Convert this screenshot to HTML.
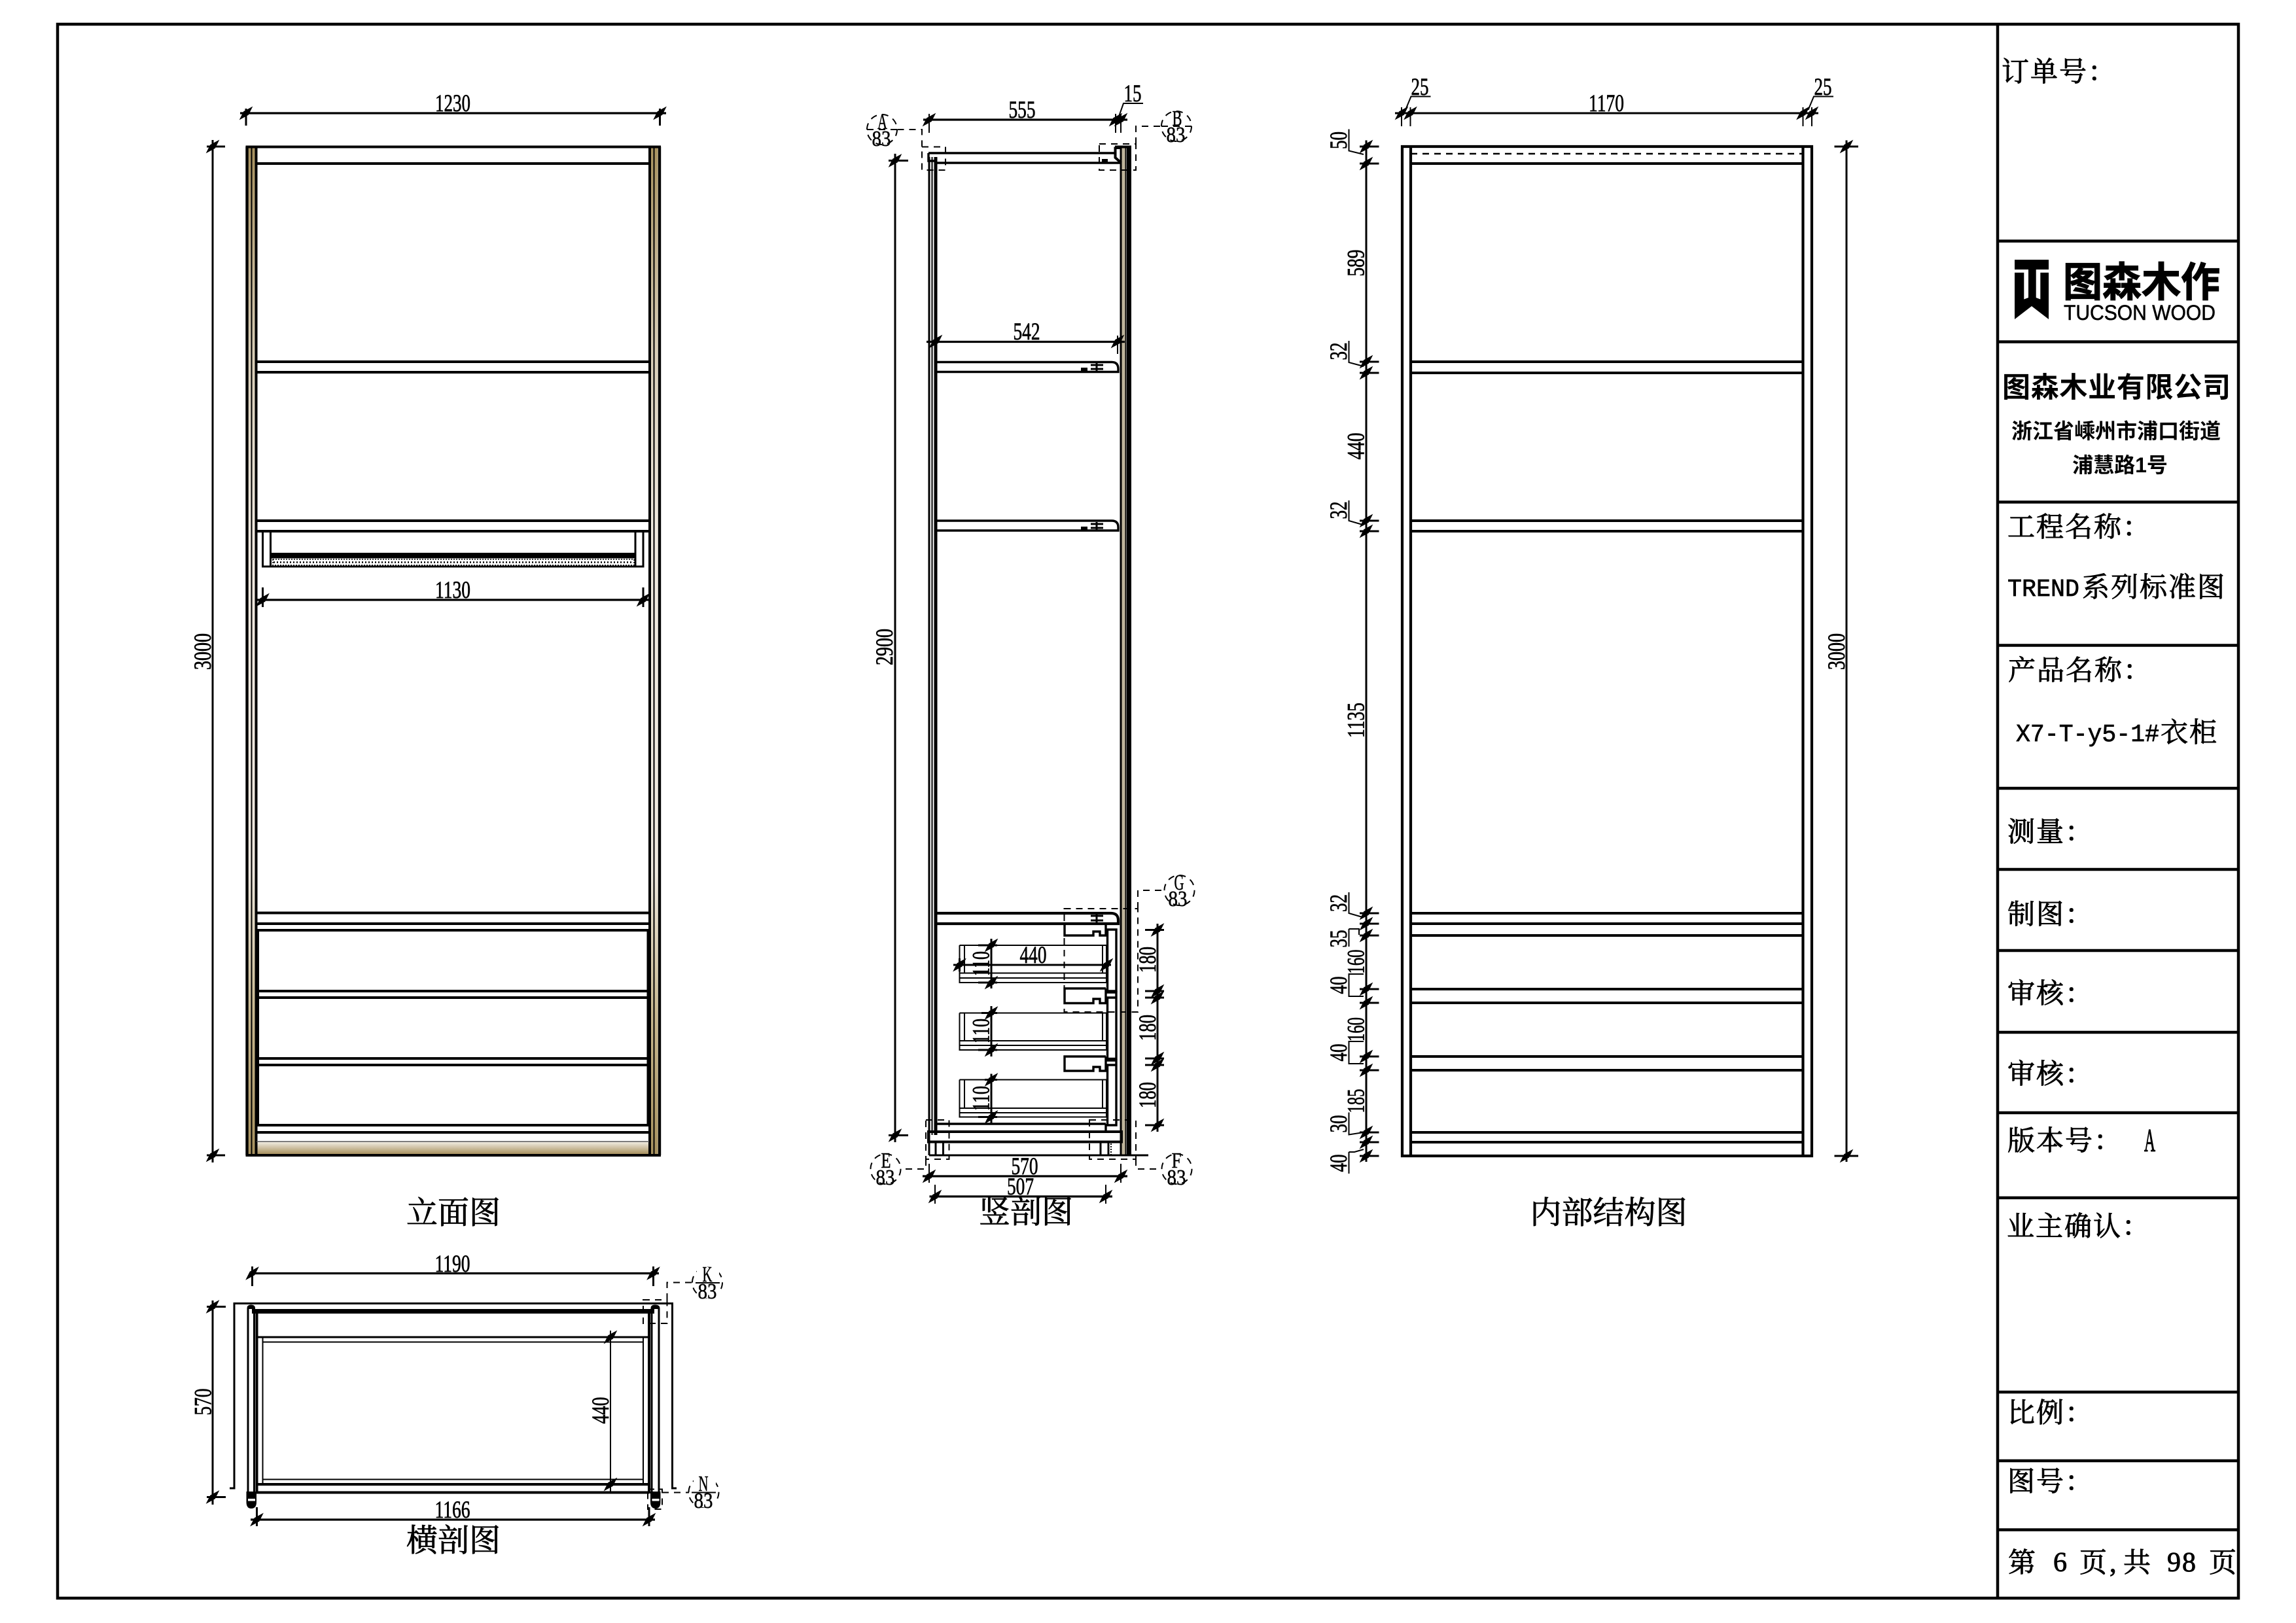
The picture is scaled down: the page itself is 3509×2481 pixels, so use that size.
<!DOCTYPE html>
<html><head><meta charset="utf-8"><title>图森木作 X7-T-y5-1#衣柜</title>
<style>
html,body{margin:0;padding:0;background:#fff;width:3509px;height:2481px;overflow:hidden}
svg{display:block}
.k{stroke:#000;stroke-width:4;fill:none}
.m{stroke:#000;stroke-width:3;fill:none}
.n{stroke:#000;stroke-width:2;fill:none}
.d{stroke:#000;stroke-width:2;fill:none;stroke-dasharray:10 8}
.t{font-family:"Liberation Serif",serif;font-size:37px;text-anchor:middle;fill:#000;stroke:#000;stroke-width:.7}
.s{font-family:"Liberation Serif",serif;font-size:34px;text-anchor:middle;fill:#000;stroke:#000;stroke-width:.5}
.c{font-family:"Liberation Serif","Noto Serif CJK SC",serif;font-size:48px;text-anchor:middle;fill:#000;stroke:#000;stroke-width:.8}
.b{font-family:"Liberation Serif","Noto Serif CJK SC",serif;font-size:42px;fill:#000;stroke:#000;stroke-width:.9;letter-spacing:2px}
.l{font-family:"Liberation Mono",monospace;font-size:38px;fill:#000;stroke:#000;stroke-width:.7}
.h{font-family:"Liberation Sans","Noto Sans CJK SC",sans-serif;font-weight:700;fill:#000;text-anchor:middle}
</style></head><body>
<svg width="3509" height="2481" viewBox="0 0 3509 2481" xmlns="http://www.w3.org/2000/svg">
<defs>
<linearGradient id="w" x1="0" y1="0" x2="0" y2="1">
<stop offset="0" stop-color="#a8925f"/><stop offset=".2" stop-color="#d8cdb6"/><stop offset=".38" stop-color="#efe9df"/><stop offset=".72" stop-color="#efe9df"/><stop offset=".86" stop-color="#c9b990"/><stop offset="1" stop-color="#a8925f"/>
</linearGradient>
<linearGradient id="w2" x1="0" y1="0" x2="0" y2="1"><stop offset="0" stop-color="#f3efe6"/><stop offset="1" stop-color="#a8925f"/></linearGradient>
<path id="x" d="M-8,8 L-3,-2 L8,-8 L3,2Z" fill="#000" stroke="#000" stroke-width="2"/>
</defs>
<rect width="3509" height="2481" fill="#fff"/>

<!-- frame and title block -->
<rect x="88" y="37" width="3333" height="2406" class="k" style="stroke-width:4.5"/>
<g class="k" style="stroke-width:4.5">
<path d="M3053,37V2443"/>
<path d="M3053,368.5H3421M3053,522.5H3421M3053,767.5H3421M3053,986.5H3421M3053,1205H3421M3053,1329H3421M3053,1453H3421M3053,1578H3421M3053,1701H3421M3053,1831H3421M3053,2128H3421M3053,2233H3421M3053,2338.5H3421"/>
</g>
<text class="b" x="3059" y="124">订单号：</text>
<path d="M3079,397H3131V488L3105,468L3079,488Z" fill="#000"/>
<path d="M3079,412H3100V455L3093.3,457.5V416.7H3079ZM3131,412H3111.7V455L3118.3,457.5V416.7H3131Z" fill="#fff"/>
<text class="h" x="3273" y="453" font-size="62" textLength="240" lengthAdjust="spacingAndGlyphs" stroke="#000" stroke-width="1.2">图森木作</text>
<text x="3154" y="489" font-family="Liberation Sans,sans-serif" font-size="32" textLength="232" lengthAdjust="spacingAndGlyphs" stroke="#000" stroke-width=".6">TUCSON WOOD</text>
<text class="h" x="3234.5" y="607" font-size="43" textLength="349" lengthAdjust="spacing" style="font-weight:700">图森木业有限公司</text>
<text class="h" x="3234" y="670" font-size="32">浙江省嵊州市浦口街道</text>
<text class="h" x="3240" y="722" font-size="32">浦慧路1号</text>
<text class="b" x="3068" y="820">工程名称：</text>
<text class="l" x="3068" y="911" textLength="110" lengthAdjust="spacingAndGlyphs">TREND</text>
<text class="b" x="3182" y="912">系列标准图</text>
<text class="b" x="3069" y="1039">产品名称：</text>
<text class="l" x="3081" y="1133" textLength="219" lengthAdjust="spacingAndGlyphs">X7-T-y5-1#</text>
<text class="b" x="3302" y="1134">衣柜</text>
<text class="b" x="3068" y="1286">测量：</text>
<text class="b" x="3068" y="1412">制图：</text>
<text class="b" x="3068" y="1533">审核：</text>
<text class="b" x="3068" y="1656">审核：</text>
<text class="b" x="3068" y="1758">版本号：</text>
<text class="b" x="3277" y="1760" font-size="50" textLength="17" lengthAdjust="spacingAndGlyphs" style="letter-spacing:0;font-size:50px;stroke-width:1.2">A</text>
<text class="b" x="3067" y="1889">业主确认：</text>
<text class="b" x="3068" y="2174">比例：</text>
<text class="b" x="3068" y="2279">图号：</text>
<text class="b" x="3069" y="2403">第</text><text class="b" x="3138" y="2402">6</text><text class="b" x="3178" y="2403">页</text><text class="b" x="3224" y="2403">,</text><text class="b" x="3245" y="2403">共</text><text class="b" x="3312" y="2402">98</text><text class="b" x="3376" y="2403">页</text>

<!-- ELEVATION 立面图 -->
<rect x="379.5" y="226" width="10.5" height="1538" fill="url(#w)"/>
<rect x="994" y="226" width="11.5" height="1538" fill="url(#w)"/>
<rect x="392" y="1745" width="600" height="19" fill="url(#w2)"/>
<path d="M384.5,226V1764M999.5,226V1764" class="n"/>
<path d="M377.5,224V1766M1008,224V1766" class="k" style="stroke-width:4.4"/>
<path d="M391.5,224V1766M993,224V1766" class="k"/>
<path d="M375.5,224.5H1010M375.5,1766H1010" class="k" style="stroke-width:4"/>
<path d="M392,250H992M392,553H992M392,569H992M392,796H992M392,812H992M392,1395.5H992M392,1412H992M392,1422H992M392,1515H992M392,1525H992M392,1618H992M392,1628H992M392,1720H992M392,1731H992" class="k"/>
<path d="M394,1422V1720M990.5,1422V1720" class="k"/>
<path d="M392,1745H992" stroke="#555" stroke-width="1.5"/>
<path d="M401.5,812V866H983V812M413.5,812V866M971,812V866" class="m"/>
<rect x="414" y="845" width="557" height="8.5" fill="#000"/>
<rect x="417" y="855" width="552" height="9" fill="#fff" stroke="#000" stroke-width="1.5" stroke-dasharray="2 2"/>
<path d="M418,859.5H968" stroke="#000" stroke-width="2.5" stroke-dasharray="2 3"/>

<path d="M367,173H1018" class="k" style="stroke-width:3.2"/><path d="M376,166V192M1008.5,166V192" class="m"/>
<use href="#x" x="376" y="173"/><use href="#x" x="1008.5" y="173"/>
<text class="t" x="692" y="170" textLength="54" lengthAdjust="spacingAndGlyphs">1230</text>
<path d="M392,917H992" class="k" style="stroke-width:3.2"/><path d="M401.5,898V928M983,898V928" class="m"/>
<use href="#x" x="401.5" y="917"/><use href="#x" x="983" y="917"/>
<text class="t" x="692" y="914" textLength="54" lengthAdjust="spacingAndGlyphs">1130</text>
<path d="M325,214V1777" class="m"/><path d="M316,224H344M316,1766H344" class="m"/>
<use href="#x" x="325" y="224"/><use href="#x" x="325" y="1766"/>
<text class="t" transform="translate(322,996) rotate(-90)" textLength="56" lengthAdjust="spacingAndGlyphs">3000</text>
<text class="c" x="693" y="1870">立面图</text>

<!-- CROSS SECTION 横剖图 -->
<path d="M351,2275H358V1992.5H1027.5V2275H1034" class="m"/>
<path d="M379,2283V2000Q379,1996 383.5,1996Q388.5,1996 388.5,2000V2283M996,2283V2000Q996,1996 1001,1996Q1007,1996 1007,2000V2283" class="m"/>
<rect x="379" y="1996" width="9.5" height="5" fill="#000"/><rect x="996" y="1996" width="11" height="5" fill="#000"/>
<rect x="385" y="2001" width="615" height="7" fill="#000"/>
<path d="M392.5,2008V2283M992,2008V2283" class="k"/>
<path d="M392,2044H992" class="m"/>
<path d="M401.5,2044V2269M983,2044V2269" class="n"/>
<path d="M401.5,2051.5H983M401.5,2261.5H983" class="n"/>
<path d="M392,2269H992M392,2281.5H992" class="k"/>
<path d="M376.5,2280H392V2296Q392,2306 384,2306Q376.5,2306 376.5,2296Z" fill="#000"/><rect x="379" y="2291" width="11" height="3.5" fill="#fff"/>
<path d="M994,2280H1009.5V2296Q1009.5,2306 1002,2306Q994,2306 994,2296Z" fill="#000"/><rect x="996.5" y="2291" width="11" height="3.5" fill="#fff"/>

<path d="M383,1946.5H1007" class="k" style="stroke-width:3.2"/><path d="M385.5,1936V1966M998.5,1936V1966" class="m"/>
<use href="#x" x="385.5" y="1946.5"/><use href="#x" x="998.5" y="1946.5"/>
<text class="t" x="691.5" y="1944" textLength="54" lengthAdjust="spacingAndGlyphs">1190</text>
<path d="M325,1988V2300M316,1997.5H345M316,2288.5H345" class="m"/>
<use href="#x" x="325" y="1997.5"/><use href="#x" x="325" y="2288.5"/>
<text class="t" transform="translate(322.5,2143) rotate(-90)" textLength="41" lengthAdjust="spacingAndGlyphs">570</text>
<path d="M933,2034V2280" class="n"/><use href="#x" x="933" y="2044"/><use href="#x" x="933" y="2269"/>
<text class="t" transform="translate(930,2156) rotate(-90)" textLength="41" lengthAdjust="spacingAndGlyphs">440</text>
<path d="M383,2323H1001" class="k" style="stroke-width:3.2"/><path d="M392.5,2304V2333M992,2304V2333" class="m"/>
<use href="#x" x="392.5" y="2323"/><use href="#x" x="992" y="2323"/>
<text class="t" x="691.5" y="2320" textLength="54" lengthAdjust="spacingAndGlyphs">1166</text>
<text class="c" x="693" y="2371">横剖图</text>
<path d="M983,1987H1019.5V2023H983ZM1019.5,1987V1960.5H1059" class="d"/>
<circle cx="1081" cy="1960.5" r="23" class="d"/>
<rect x="1065" y="1937" width="34" height="47" fill="#fff"/>
<path d="M1063,1961H1100" class="n"/>
<text class="s" x="1081" y="1959" textLength="15" lengthAdjust="spacingAndGlyphs">K</text><text class="s" x="1081" y="1985" textLength="29" lengthAdjust="spacingAndGlyphs">83</text>
<path d="M990,2276.5H1012V2307H990ZM1012,2281.5H1053" class="d"/>
<circle cx="1075.5" cy="2281" r="23" class="d"/>
<rect x="1060" y="2257" width="34" height="47" fill="#fff"/>
<path d="M1057,2281.5H1094" class="n"/>
<text class="s" x="1075" y="2279" textLength="15" lengthAdjust="spacingAndGlyphs">N</text><text class="s" x="1075" y="2305" textLength="29" lengthAdjust="spacingAndGlyphs">83</text>

<!-- VERTICAL SECTION 竖剖图 -->
<rect x="1714" y="224.5" width="6" height="1541" fill="#bfb59c"/>
<path d="M1713,224.5V1766" class="m"/><path d="M1720.5,224.5V1766" class="n"/>
<rect x="1722" y="224.5" width="7" height="1541.5" fill="#000"/>
<path d="M1704,224.5H1729" class="k"/>
<path d="M1420,240V1745" class="k" style="stroke-width:3"/><path d="M1424.5,240V1735" class="n"/><path d="M1430,240V1735" class="k" style="stroke-width:5"/>
<path d="M1419,234H1704M1419,234V246H1432M1431,249H1713" class="k" style="stroke-width:3.4"/>
<path d="M1704.5,224.5V241L1713.5,249" class="k" style="stroke-width:4"/><path d="M1706,226H1712" class="k"/>
<rect x="1684" y="243" width="9" height="6" fill="#000"/>
<!-- shelves -->
<path d="M1431,553.5H1699Q1709,553.5 1709,564V568.5H1431" class="k" style="stroke-width:3.4"/><rect x="1652" y="562" width="10" height="6" fill="#000"/><path d="M1667,558H1686M1667,564H1686M1676,555V567" class="m"/>
<path d="M1431,796H1699Q1709,796 1709,806V811H1431" class="k" style="stroke-width:3.4"/><rect x="1652" y="805" width="10" height="6" fill="#000"/><path d="M1667,801H1686M1667,807H1686M1676,798V810" class="m"/>
<path d="M1431,1396H1698Q1709,1396 1709,1407V1412H1431" class="k" style="stroke-width:4.2"/>
<path d="M1667,1400H1686M1667,1407H1686M1676,1397V1410" class="m"/>
<!-- drawer fronts -->
<path d="M1627,1412V1430H1671V1424H1681V1430H1690V1412" class="k" style="stroke-width:3.4"/>
<path d="M1692.5,1421H1706V1515H1692.5Z" class="k" style="stroke-width:3.4"/>
<path d="M1690,1511H1627V1533.5H1671V1527H1681V1533.5H1690V1511" class="k" style="stroke-width:3.4"/>
<path d="M1690,1517H1706V1525H1692.5V1618.5H1706V1525" class="k" style="stroke-width:3.4"/>
<path d="M1690,1615H1627V1637H1671V1631H1681V1637H1690V1615" class="k" style="stroke-width:3.4"/>
<path d="M1690,1621H1706V1628H1692.5V1720H1706V1628" class="k" style="stroke-width:3.4"/>
<!-- drawer boxes -->
<g class="n">
<path d="M1466.5,1445H1691M1466.5,1445V1502H1691M1474,1445V1487.5M1685,1445V1487.5M1691,1445V1502M1466.5,1487.5H1691M1466.5,1495H1691"/>
<path d="M1466.5,1548.5H1691M1466.5,1548.5V1605H1691M1474,1548.5V1591M1685,1548.5V1591M1691,1548.5V1605M1466.5,1591H1691M1466.5,1598H1691"/>
<path d="M1466.5,1650.5H1691M1466.5,1650.5V1707.5H1691M1474,1650.5V1694M1685,1650.5V1694M1691,1650.5V1707.5M1466.5,1694H1691M1466.5,1701H1691"/>
</g>
<!-- bottom -->
<path d="M1431,1718H1690M1690,1718V1730" class="k" style="stroke-width:3.4"/>
<path d="M1419,1730H1714V1745.5H1419Z" class="k"/>
<path d="M1420,1766H1755" class="m"/>
<path d="M1420,1745V1766M1430,1745V1766M1441.5,1745V1766M1682,1745V1766M1694,1745V1766M1713,1745V1766" class="m"/>
<path d="M1698,1748V1766" stroke="#000" stroke-width="2" stroke-dasharray="2 2"/>
<!-- dims -->
<path d="M1411,183H1723" class="k" style="stroke-width:3.2"/><path d="M1420,174V203M1705,174V203M1713,174V203" class="n"/>
<use href="#x" x="1420" y="183"/><use href="#x" x="1705" y="183"/><use href="#x" x="1713" y="183"/>
<text class="t" x="1562" y="180" textLength="41" lengthAdjust="spacingAndGlyphs">555</text>
<path d="M1710,178L1717,158H1747" class="n"/><text class="t" x="1731" y="155" textLength="27" lengthAdjust="spacingAndGlyphs">15</text>
<path d="M1416,522.5H1719" class="k" style="stroke-width:3.2"/><path d="M1708,513V541" class="n"/>
<use href="#x" x="1430" y="522"/><use href="#x" x="1708" y="522"/>
<text class="t" x="1569" y="519" textLength="41" lengthAdjust="spacingAndGlyphs">542</text>
<path d="M1368,235V1746M1358,245.5H1388M1358,1735.5H1388" class="m"/>
<use href="#x" x="1368" y="245.5"/><use href="#x" x="1368" y="1735.5"/>
<text class="t" transform="translate(1364,989) rotate(-90)" textLength="56" lengthAdjust="spacingAndGlyphs">2900</text>
<g class="m"><path d="M1515,1435V1511M1495,1445H1524M1495,1502H1524M1515,1538V1615M1500,1548.5H1524M1495,1605H1524M1515,1641.5V1718M1505,1650.5H1524M1495,1707.5H1524"/></g>
<use href="#x" x="1515" y="1445"/><use href="#x" x="1515" y="1502"/><use href="#x" x="1515" y="1548.5"/><use href="#x" x="1515" y="1605"/><use href="#x" x="1515" y="1650.5"/><use href="#x" x="1515" y="1707.5"/>
<text class="t" transform="translate(1511.5,1473) rotate(-90)" textLength="38" lengthAdjust="spacingAndGlyphs">110</text>
<text class="t" transform="translate(1511.5,1576) rotate(-90)" textLength="38" lengthAdjust="spacingAndGlyphs">110</text>
<text class="t" transform="translate(1511.5,1679) rotate(-90)" textLength="38" lengthAdjust="spacingAndGlyphs">110</text>
<path d="M1457,1475H1698" class="m"/><use href="#x" x="1466.5" y="1475"/><use href="#x" x="1691" y="1475"/><path d="M1466.5,1465V1485" class="m"/>
<text class="t" x="1579" y="1472" textLength="41" lengthAdjust="spacingAndGlyphs">440</text>
<path d="M1769,1412V1730M1750,1421.5H1779M1750,1515H1779M1750,1525H1779M1750,1618H1779M1750,1628H1779M1750,1720H1779" class="m"/>
<use href="#x" x="1769" y="1421.5"/><use href="#x" x="1769" y="1515"/><use href="#x" x="1769" y="1525"/><use href="#x" x="1769" y="1618"/><use href="#x" x="1769" y="1628"/><use href="#x" x="1769" y="1720"/>
<text class="t" transform="translate(1766,1467) rotate(-90)" textLength="40" lengthAdjust="spacingAndGlyphs">180</text>
<text class="t" transform="translate(1766,1571) rotate(-90)" textLength="40" lengthAdjust="spacingAndGlyphs">180</text>
<text class="t" transform="translate(1766,1674) rotate(-90)" textLength="40" lengthAdjust="spacingAndGlyphs">180</text>
<path d="M1410,1798H1723" class="k" style="stroke-width:3.2"/><path d="M1420,1779V1808M1713,1779V1808" class="n"/>
<use href="#x" x="1420" y="1798"/><use href="#x" x="1713" y="1798"/>
<text class="t" x="1566" y="1795" textLength="41" lengthAdjust="spacingAndGlyphs">570</text>
<path d="M1420.5,1829H1700" class="k" style="stroke-width:3.2"/><path d="M1429,1811V1840M1690,1811V1840" class="n"/>
<use href="#x" x="1429" y="1829"/><use href="#x" x="1690" y="1829"/>
<text class="t" x="1559.5" y="1826" textLength="41" lengthAdjust="spacingAndGlyphs">507</text>
<text class="c" x="1568" y="1869">竖剖图</text>
<!-- callouts -->
<path d="M1409,224.5H1445V260H1409ZM1409,224.5V198H1371" class="d"/>
<circle cx="1348" cy="198" r="23" class="d"/>
<path d="M1325,198H1371" class="d"/>
<text class="s" x="1348.5" y="197" textLength="15" lengthAdjust="spacingAndGlyphs">A</text><text class="s" x="1347" y="223" textLength="29" lengthAdjust="spacingAndGlyphs">83</text>
<path d="M1680,220H1736V260H1680ZM1736,220V193H1775" class="d"/>
<circle cx="1798" cy="193" r="23" class="d"/><path d="M1775,193H1821" class="d"/>
<text class="s" x="1799" y="192" textLength="15" lengthAdjust="spacingAndGlyphs">B</text><text class="s" x="1797" y="217" textLength="29" lengthAdjust="spacingAndGlyphs">83</text>
<path d="M1626.5,1389H1739V1547H1626.5ZM1739,1389V1361H1778" class="d"/>
<circle cx="1802.5" cy="1361" r="23" class="d"/>
<text class="s" x="1802" y="1360" textLength="15" lengthAdjust="spacingAndGlyphs">G</text><text class="s" x="1800" y="1385" textLength="29" lengthAdjust="spacingAndGlyphs">83</text>
<path d="M1415,1712H1450.5V1772H1415ZM1415,1772V1787H1376" class="d"/>
<circle cx="1353.5" cy="1787" r="23" class="d"/>
<text class="s" x="1354" y="1785" textLength="15" lengthAdjust="spacingAndGlyphs">E</text><text class="s" x="1353" y="1811" textLength="29" lengthAdjust="spacingAndGlyphs">83</text>
<path d="M1665,1712H1736V1772H1665ZM1736,1772V1787H1775" class="d"/>
<circle cx="1798.5" cy="1787" r="23" class="d"/>
<text class="s" x="1798" y="1785" textLength="15" lengthAdjust="spacingAndGlyphs">F</text><text class="s" x="1798" y="1811" textLength="29" lengthAdjust="spacingAndGlyphs">83</text>

<!-- INTERNAL STRUCTURE 内部结构图 -->
<path d="M2143,224H2769V1767H2143Z" class="k" style="stroke-width:4.2"/>
<path d="M2156,224V1767M2755.5,224V1767" class="k" style="stroke-width:4.2"/>
<path d="M2156,235H2755" class="m" style="stroke-dasharray:10 8;stroke-width:2.4"/>
<path d="M2156,250H2755M2156,553H2755M2156,570H2755M2156,796H2755M2156,812H2755M2156,1396H2755M2156,1412H2755M2156,1430H2755M2156,1512H2755M2156,1533H2755M2156,1615H2755M2156,1636H2755M2156,1731H2755M2156,1746H2755" class="k"/>
<path d="M2132,173H2779" class="k" style="stroke-width:3"/><path d="M2142,164V193M2155.5,164V193M2755.5,164V193M2769,164V193" class="n"/>
<use href="#x" x="2142" y="173"/><use href="#x" x="2155.5" y="173"/><use href="#x" x="2755.5" y="173"/><use href="#x" x="2769" y="173"/>
<text class="t" x="2455" y="170" textLength="54" lengthAdjust="spacingAndGlyphs">1170</text>
<path d="M2148,168L2156.5,147.5H2186.5M2763.5,168L2772,147.5H2802" class="n"/>
<text class="t" x="2170" y="145" textLength="27" lengthAdjust="spacingAndGlyphs">25</text><text class="t" x="2786" y="145" textLength="27" lengthAdjust="spacingAndGlyphs">25</text>
<path d="M2088,214.5V1776M2078,224H2107.5M2078,250H2107.5M2078,553H2107.5M2078,570H2107.5M2078,796H2107.5M2078,812H2107.5M2078,1396H2107.5M2078,1412H2107.5M2078,1430H2107.5M2078,1512H2107.5M2078,1533H2107.5M2078,1615H2107.5M2078,1636H2107.5M2078,1731H2107.5M2078,1746H2107.5M2078,1767H2107.5" class="m"/>
<use href="#x" x="2088" y="224"/><use href="#x" x="2088" y="250"/><use href="#x" x="2088" y="553"/><use href="#x" x="2088" y="570"/><use href="#x" x="2088" y="796"/><use href="#x" x="2088" y="812"/><use href="#x" x="2088" y="1396"/><use href="#x" x="2088" y="1412"/><use href="#x" x="2088" y="1430"/><use href="#x" x="2088" y="1512"/><use href="#x" x="2088" y="1533"/><use href="#x" x="2088" y="1615"/><use href="#x" x="2088" y="1636"/><use href="#x" x="2088" y="1731"/><use href="#x" x="2088" y="1746"/><use href="#x" x="2088" y="1767"/>
<path class="n" d="M2061.5,197.5V230.5L2084,236M2061.5,521V554L2084,560M2061.5,765V796L2084,802.5M2061.5,1364V1396L2084,1402.5M2061.5,1420H2077V1429M2061.5,1420V1447M2084,1489H2061.5V1523H2084M2084,1592H2061.5V1626H2084M2061.5,1700.5V1734.5L2084,1731M2061.5,1761V1794M2061.5,1761H2070L2084,1757"/>
<g>
<text class="t" transform="translate(2058,214.5) rotate(-90)" textLength="27" lengthAdjust="spacingAndGlyphs">50</text>
<text class="t" transform="translate(2084.5,402) rotate(-90)" textLength="41" lengthAdjust="spacingAndGlyphs">589</text>
<text class="t" transform="translate(2058,537) rotate(-90)" textLength="27" lengthAdjust="spacingAndGlyphs">32</text>
<text class="t" transform="translate(2084.5,682) rotate(-90)" textLength="41" lengthAdjust="spacingAndGlyphs">440</text>
<text class="t" transform="translate(2058,780) rotate(-90)" textLength="27" lengthAdjust="spacingAndGlyphs">32</text>
<text class="t" transform="translate(2084.5,1101) rotate(-90)" textLength="54" lengthAdjust="spacingAndGlyphs">1135</text>
<text class="t" transform="translate(2058,1380.5) rotate(-90)" textLength="27" lengthAdjust="spacingAndGlyphs">32</text>
<text class="t" transform="translate(2058,1435) rotate(-90)" textLength="27" lengthAdjust="spacingAndGlyphs">35</text>
<text class="t" transform="translate(2084.5,1470) rotate(-90)" textLength="37" lengthAdjust="spacingAndGlyphs">160</text>
<text class="t" transform="translate(2058,1506) rotate(-90)" textLength="27" lengthAdjust="spacingAndGlyphs">40</text>
<text class="t" transform="translate(2084.5,1573.5) rotate(-90)" textLength="37" lengthAdjust="spacingAndGlyphs">160</text>
<text class="t" transform="translate(2058,1609) rotate(-90)" textLength="27" lengthAdjust="spacingAndGlyphs">40</text>
<text class="t" transform="translate(2084.5,1683) rotate(-90)" textLength="37" lengthAdjust="spacingAndGlyphs">185</text>
<text class="t" transform="translate(2058,1718) rotate(-90)" textLength="27" lengthAdjust="spacingAndGlyphs">30</text>
<text class="t" transform="translate(2058,1778) rotate(-90)" textLength="27" lengthAdjust="spacingAndGlyphs">40</text>
</g>
<path d="M2822,214.5V1776M2803.5,224H2840M2803.5,1767H2840" class="m"/>
<use href="#x" x="2822" y="224"/><use href="#x" x="2822" y="1767"/>
<text class="t" transform="translate(2819,996) rotate(-90)" textLength="56" lengthAdjust="spacingAndGlyphs">3000</text>
<text class="c" x="2458.5" y="1870">内部结构图</text>
</svg>
</body></html>
